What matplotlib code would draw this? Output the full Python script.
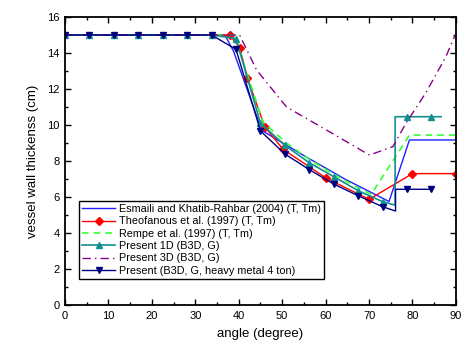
import matplotlib
matplotlib.use("Agg")
import matplotlib.pyplot as plt
from matplotlib.ticker import MultipleLocator

plt.rcParams['font.family'] = ['Liberation Sans', 'DejaVu Sans']

# ---- data ----
esm_x = [0, 36.8, 38.8, 45.3, 55.0, 64.4, 74.6, 79.3, 90]
esm_y = [15, 15, 14.1, 9.7, 8.3, 7.0, 5.75, 9.17, 9.17]

theo_x = [0, 37.9, 40.2, 42.0, 46.0, 50.2, 60.2, 70.0, 80.0, 90.0]
theo_y = [15, 15.0, 14.3, 12.6, 9.9, 8.65, 7.04, 5.87, 7.3, 7.3]

rempe_x = [0, 39.0, 45.6, 51.0, 56.5, 62.0, 68.0, 70.5, 79.3, 90]
rempe_y = [15, 15, 10.15, 9.0, 8.05, 7.25, 6.45, 6.15, 9.44, 9.44]

p1d_x = [0, 5.625, 11.25, 16.875, 22.5, 28.125, 33.75, 39.375, 45.0, 50.625,
         56.25, 61.875, 67.5, 73.125, 76.0, 76.0, 78.75, 84.375, 86.6]
p1d_y = [15, 15, 15, 15, 15, 15, 15, 14.8, 10.1, 8.87,
         7.9, 7.13, 6.35, 5.74, 5.55, 10.46, 10.46, 10.46, 10.46]
p1d_marks = [0, 1, 2, 3, 4, 5, 6, 7, 8, 9, 10, 11, 12, 13, 16, 17]

p3d_x = [0, 40.2, 44.1, 51.0, 60.0, 70.1, 75.5, 78.5, 83.1, 87.7, 89.8]
p3d_y = [15, 15, 13.06, 11.0, 9.75, 8.33, 8.8, 10.1, 11.8, 13.8, 15.0]

hm_x = [0, 5.625, 11.25, 16.875, 22.5, 28.125, 33.75, 39.375, 45.0, 50.625,
        56.25, 61.875, 67.5, 73.125, 76.1, 76.1, 78.75, 84.375]
hm_y = [15, 15, 15, 15, 15, 15, 15, 14.2, 9.67, 8.39,
        7.52, 6.72, 6.07, 5.46, 5.22, 6.43, 6.43, 6.43]
hm_marks = [0, 1, 2, 3, 4, 5, 6, 7, 8, 9, 10, 11, 12, 13, 16, 17]

labels = ["Esmaili and Khatib-Rahbar (2004) (T, Tm)",
          "Theofanous et al. (1997) (T, Tm)",
          "Rempe et al. (1997) (T, Tm)",
          "Present 1D (B3D, G)",
          "Present 3D (B3D, G)",
          "Present (B3D, G, heavy metal 4 ton)"]

fig = plt.figure(figsize=(4.61, 3.47), dpi=100)
ax = fig.add_axes([0.141, 0.121, 0.848, 0.830])

ax.plot(esm_x, esm_y, color='#2020ff', lw=1.0, label=labels[0])
ax.plot(theo_x, theo_y, color='#ff0000', lw=1.0, marker='D', ms=4,
        markevery=list(range(1, len(theo_x))), label=labels[1])
ax.plot(rempe_x, rempe_y, color='#33ff33', lw=1.2, ls=(0, (4, 3)), label=labels[2])
ax.plot(p1d_x, p1d_y, color='#119090', lw=1.2, marker='^', ms=5,
        markevery=p1d_marks, label=labels[3])
ax.plot(p3d_x, p3d_y, color='#880088', lw=1.0, ls=(0, (6, 3, 1, 3)), label=labels[4])
ax.plot(hm_x, hm_y, color='#000080', lw=1.0, marker='v', ms=5,
        markevery=hm_marks, label=labels[5])

ax.set_xlim(0, 90)
ax.set_ylim(0, 16)
ax.xaxis.set_major_locator(MultipleLocator(10))
ax.xaxis.set_minor_locator(MultipleLocator(5))
ax.yaxis.set_major_locator(MultipleLocator(2))
ax.yaxis.set_minor_locator(MultipleLocator(1))
ax.tick_params(which='both', direction='in', top=True, right=True,
               labelsize=8, width=1.0)
ax.tick_params(which='major', length=4, pad=4)
ax.tick_params(which='minor', length=2)
for s in ax.spines.values():
    s.set_linewidth(1.3)

ax.set_xlabel('angle (degree)', fontsize=9.5, labelpad=5)
ax.set_ylabel('vessel wall thickenss (cm)', fontsize=9.5, labelpad=6)

leg = ax.legend(loc='lower left', bbox_to_anchor=(0.036, 0.09), fontsize=7.8,
                frameon=True, fancybox=False, edgecolor='black', framealpha=1,
                handlelength=3.0, handletextpad=0.4, labelspacing=0.22,
                borderpad=0.3, borderaxespad=0)
leg.get_frame().set_linewidth(1.0)

fig.savefig('out.png', dpi=100)
